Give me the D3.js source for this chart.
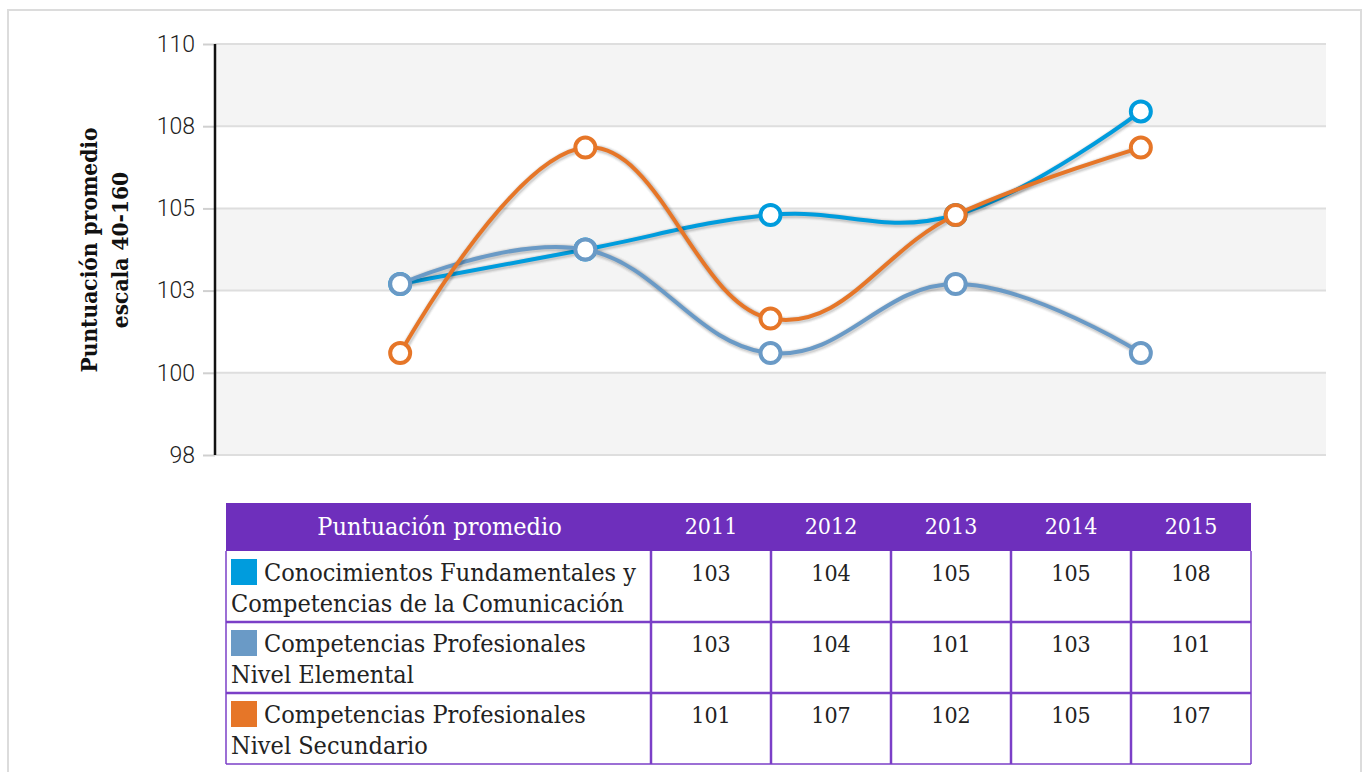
<!DOCTYPE html>
<html>
<head>
<meta charset="utf-8">
<script src="https://cdn.jsdelivr.net/npm/d3@7"></script>
<style>
  body { margin: 0; background: #fff; }
  svg { display: block; }
</style>
</head>
<body>
<script>

// years on the x axis
var years = ["2011", "2012", "2013", "2014", "2015"];

// series values
var conocimientos = [102.7, 103.75, 104.8, 104.8, 107.95];
var elemental = [102.7, 103.75, 100.6, 102.7, 100.6];
var secundario = [100.6, 106.85, 101.65, 104.8, 106.85];

var seriesNames = [
  ["Conocimientos Fundamentales y", "Competencias de la Comunicación"],
  ["Competencias Profesionales", "Nivel Elemental"],
  ["Competencias Profesionales", "Nivel Secundario"]
];
var seriesColors = ["#009cdd", "#6a9ac6", "#e67628"];

// y ticks and the rounded labels shown on them
var yTicks = [97.5, 100, 102.5, 105, 107.5, 110];
var yTickLabels = ["98", "100", "103", "105", "108", "110"];

var tableHeader = "Puntuación promedio";

var allSeries = [conocimientos, elemental, secundario];

var width = 1367, height = 772;
var plot = { left: 215, right: 1326, top: 44, bottom: 455 };

var svg = d3.select("body")
            .append("svg")
            .attr("width", width)
            .attr("height", height);

// outer frame
svg.append("rect")
   .attr("x", 8).attr("y", 10)
   .attr("width", 1353).attr("height", 790)
   .style("fill", "#fff")
   .style("stroke", "#dcdcdc")
   .style("stroke-width", 2);

var x = d3.scalePoint()
          .domain(years)
          .range([plot.left, plot.right])
          .padding(1);

var y = d3.scaleLinear()
          .domain([yTicks[0], yTicks[yTicks.length - 1]])
          .range([plot.bottom, plot.top]);

// alternating bands
var bands = d3.pairs(yTicks);
svg.append("g")
   .selectAll("rect")
   .data(bands)
   .enter().append("rect")
   .attr("x", plot.left)
   .attr("width", plot.right - plot.left)
   .attr("y", function(d) { return y(d[1]); })
   .attr("height", function(d) { return y(d[0]) - y(d[1]); })
   .style("fill", function(d, i) { return (bands.length - 1 - i) % 2 == 0 ? "#f4f4f4" : "#fff"; });

// grid lines
svg.append("g")
   .selectAll("line")
   .data(yTicks)
   .enter().append("line")
   .attr("x1", plot.left).attr("x2", plot.right)
   .attr("y1", function(d) { return y(d); })
   .attr("y2", function(d) { return y(d); })
   .style("stroke", "#dedede")
   .style("stroke-width", 2);

// y axis
var yAxis = d3.axisLeft(y)
              .tickValues(yTicks)
              .tickFormat(function(d, i) { return yTickLabels[i]; })
              .tickSize(12)
              .tickPadding(8);

var gy = svg.append("g")
            .attr("transform", "translate(" + plot.left + ",0)")
            .call(yAxis);
gy.select(".domain").remove();
gy.selectAll(".tick line").style("stroke", "#d0d0d0").style("stroke-width", 2);
gy.selectAll(".tick text")
  .style("font-family", "Roboto, 'Liberation Sans', sans-serif")
  .style("font-weight", 300)
  .style("font-size", "23px")
  .style("fill", "#222");

svg.append("line")
   .attr("x1", plot.left).attr("x2", plot.left)
   .attr("y1", plot.top).attr("y2", plot.bottom)
   .style("stroke", "#111")
   .style("stroke-width", 2.5);

// y axis title
var title = svg.append("text")
               .attr("transform", "translate(104,250) rotate(-90)")
               .attr("text-anchor", "middle")
               .style("font-family", "'DejaVu Serif Condensed', 'DejaVu Serif', serif")
               .style("font-weight", "bold")
               .style("font-size", "22.5px")
               .style("fill", "#111");
title.append("tspan").attr("x", 0).attr("dy", -7).text("Puntuación promedio");
title.append("tspan").attr("x", 0).attr("dy", 31).text("escala 40-160");

// spline like the original chart: smoothing 1.5, tangents through neighbours
function splinePath(pts) {
  var p = d3.path();
  var smoothing = 1.5, denom = smoothing + 1;
  var rc = [];
  pts.forEach(function(pt, i) {
    var lc = null;
    if (i > 0 && i < pts.length - 1) {
      var last = pts[i - 1], next = pts[i + 1];
      var lcx = (smoothing * pt[0] + last[0]) / denom;
      var lcy = (smoothing * pt[1] + last[1]) / denom;
      var rcx = (smoothing * pt[0] + next[0]) / denom;
      var rcy = (smoothing * pt[1] + next[1]) / denom;
      var corr = ((rcy - lcy) * (rcx - pt[0])) / (rcx - lcx) + pt[1] - rcy;
      lc = [lcx, lcy + corr];
      rc[i] = [rcx, rcy + corr];
    }
    if (i == 0) {
      p.moveTo(pt[0], pt[1]);
    } else {
      var c1 = rc[i - 1] || pts[i - 1];
      var c2 = lc || pt;
      p.bezierCurveTo(c1[0], c1[1], c2[0], c2[1], pt[0], pt[1]);
    }
  });
  return p.toString();
}

// draw the series: shadow, line, markers
allSeries.forEach(function(values, s) {
  var pts = values.map(function(v, i) { return [x(years[i]), y(v)]; });
  var g = svg.append("g").attr("class", "series");
  var d = splinePath(pts);

  [1, 2, 3].forEach(function(k) {
    g.append("path")
     .attr("d", d)
     .attr("transform", "translate(1,1)")
     .style("fill", "none")
     .style("stroke", "#000")
     .style("stroke-opacity", 0.03 * k)
     .style("stroke-width", 4 + 8 - 2 * k)
     .style("stroke-linejoin", "round");
  });

  g.append("path")
   .attr("d", d)
   .style("fill", "none")
   .style("stroke", seriesColors[s])
   .style("stroke-width", 4)
   .style("stroke-linejoin", "round")
   .style("stroke-linecap", "round");

  g.selectAll("circle")
   .data(values)
   .enter().append("circle")
   .attr("cx", function(v, i) { return x(years[i]); })
   .attr("cy", function(v) { return y(v); })
   .attr("r", 10)
   .style("fill", "#fff")
   .style("stroke", seriesColors[s])
   .style("stroke-width", 4);
});

// data table below the chart
var table = { left: 226, top: 503, headH: 48, rowH: 71, firstW: 425, colW: 120 };
var tableRight = table.left + table.firstW + table.colW * years.length;
var purple = "#6e2fbc";
var border = "#7b3fc7";
var serif = "'DejaVu Serif Condensed', 'DejaVu Serif', serif";
var fmt = d3.format(".0f");

var tg = svg.append("g");

tg.append("rect")
  .attr("x", table.left).attr("y", table.top)
  .attr("width", tableRight - table.left).attr("height", table.headH)
  .style("fill", purple);

tg.append("text")
  .attr("x", table.left + table.firstW / 2 + 1)
  .attr("y", table.top + table.headH / 2 + 8)
  .attr("text-anchor", "middle")
  .style("font-family", serif)
  .style("font-size", "25px")
  .style("fill", "#fff")
  .text(tableHeader);

tg.selectAll(".year")
  .data(years)
  .enter().append("text")
  .attr("class", "year")
  .attr("x", function(d, i) { return table.left + table.firstW + table.colW * (i + 0.5); })
  .attr("y", table.top + table.headH / 2 + 7)
  .attr("text-anchor", "middle")
  .style("font-family", serif)
  .style("font-size", "23px")
  .style("fill", "#fff")
  .text(function(d) { return d; });

allSeries.forEach(function(values, s) {
  var top = table.top + table.headH + table.rowH * s;
  var row = tg.append("g");

  row.append("rect")
     .attr("x", 231).attr("y", top + 8)
     .attr("width", 26).attr("height", 26)
     .style("fill", seriesColors[s]);

  row.append("text")
     .attr("x", 264).attr("y", top + 30)
     .style("font-family", serif)
     .style("font-size", "25px")
     .style("fill", "#222")
     .text(seriesNames[s][0]);

  row.append("text")
     .attr("x", 231).attr("y", top + 61)
     .style("font-family", serif)
     .style("font-size", "25px")
     .style("fill", "#222")
     .text(seriesNames[s][1]);

  row.selectAll(".val")
     .data(values)
     .enter().append("text")
     .attr("class", "val")
     .attr("x", function(v, i) { return table.left + table.firstW + table.colW * (i + 0.5); })
     .attr("y", top + 30)
     .attr("text-anchor", "middle")
     .style("font-family", serif)
     .style("font-size", "23px")
     .style("fill", "#222")
     .text(function(v) { return fmt(v); });
});

// table grid lines
var tableBottom = table.top + table.headH + table.rowH * allSeries.length;
var rowLines = d3.range(1, allSeries.length + 1).map(function(i) { return table.top + table.headH + table.rowH * i; });
tg.selectAll(".hline")
  .data(rowLines)
  .enter().append("line")
  .attr("x1", table.left).attr("x2", tableRight)
  .attr("y1", function(d) { return d; })
  .attr("y2", function(d) { return d; })
  .style("stroke", border)
  .style("stroke-width", function(d, i) { return i == rowLines.length - 1 ? 1.5 : 2.5; });

var colLines = [table.left].concat(d3.range(years.length + 1).map(function(i) { return table.left + table.firstW + table.colW * i; }));
tg.selectAll(".vline")
  .data(colLines)
  .enter().append("line")
  .attr("x1", function(d) { return d; })
  .attr("x2", function(d) { return d; })
  .attr("y1", table.top + table.headH)
  .attr("y2", tableBottom)
  .style("stroke", border)
  .style("stroke-width", function(d, i) { return (i == 0 || i == colLines.length - 1) ? 1.5 : 2.5; });

</script>
</body>
</html>
